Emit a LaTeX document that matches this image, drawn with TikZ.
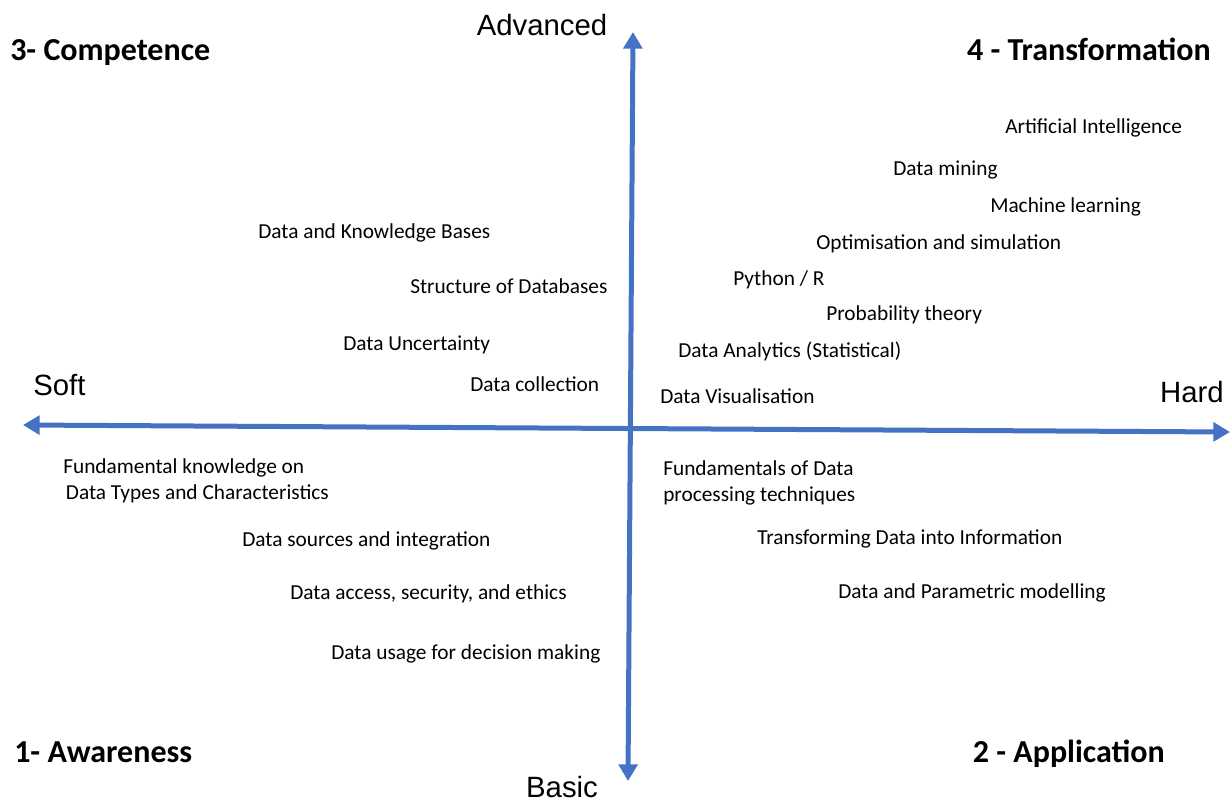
\documentclass[tikz,border=0pt]{standalone}
\usepackage{fontspec}
\setmainfont{Carlito}
\newfontfamily\axisfont{Liberation Sans}
\usetikzlibrary{arrows.meta}
\definecolor{axisblue}{HTML}{4472C4}
\begin{document}
\begin{tikzpicture}[x=0.75pt,y=-0.75pt]
 \tikzset{axis/.style={line width=3.75pt, color=axisblue, {Triangle[length=12.5pt,width=14pt]}-{Triangle[length=12.5pt,width=14pt]}},
   skill/.style={anchor=base west, inner sep=0pt, align=left, font=\fontsize{16}{19.5}\selectfont},
   level/.style={inner sep=0pt, font=\fontsize{24}{28}\selectfont\bfseries},
   pole/.style={inner sep=0pt, font=\fontsize{22}{26}\selectfont\axisfont}}
  \useasboundingbox (0,0) rectangle (1232,801);
  % axis ends
  \coordinate (top) at (633,32);
  \coordinate (bot) at (628,781);
  \coordinate (left) at (23,425);
  \coordinate (right) at (1230,432);
  \draw[axis] (bot) -- (top);
  \draw[axis] (left) -- (right);
  % poles
  \node[pole, anchor=base] (adv) at (542,35) {Advanced};
  \node[pole, anchor=base] (basic) at (562,797) {Basic};
  \node[pole, anchor=base west] (soft) at (33,395) {Soft};
  \node[pole, anchor=base east] (hard) at (1224,402) {Hard};
  % quadrants
  \node[level, anchor=base west] (q3) at (10,60) {3- Competence};
  \node[level, anchor=base east] (q4) at (1211,60) {4 - Transformation};
  \node[level, anchor=base west] (q1) at (14,762) {1- Awareness};
  \node[level, anchor=base east] (q2) at (1165,762) {2 - Application};
  % transformation
  \node[skill] (ai) at (1005,133) {Artificial Intelligence};
  \node[skill] (dm) at (893,175) {Data mining};
  \node[skill] (ml) at (990,212) {Machine learning};
  \node[skill] (opt) at (816,249) {Optimisation and simulation};
  \node[skill] (py) at (733,285) {Python / R};
  \node[skill] (prob) at (826,320) {Probability theory};
  \node[skill] (stat) at (678,357) {Data Analytics (Statistical)};
  \node[skill] (vis) at (660,403) {Data Visualisation};
  % competence
  \node[skill] (kb) at (258,238) {Data and Knowledge Bases};
  \node[skill] (db) at (410,293) {Structure of Databases};
  \node[skill] (unc) at (343,350) {Data Uncertainty};
  \node[skill] (coll) at (470,391) {Data collection};
  % awareness (base = last line)
  \node[skill] (types) at (63,499) {Fundamental knowledge on\\\hspace{2pt}Data Types and Characteristics};
  \node[skill] (src) at (242,546) {Data sources and integration};
  \node[skill] (acc) at (290,599) {Data access, security, and ethics};
  \node[skill] (use) at (331,659) {Data usage for decision making};
  % application
  \node[skill] (proc) at (663,501) {Fundamentals of Data\\processing techniques};
  \node[skill] (info) at (757,544) {Transforming Data into Information};
  \node[skill] (model) at (838,598) {Data and Parametric modelling};
\end{tikzpicture}
\end{document}
